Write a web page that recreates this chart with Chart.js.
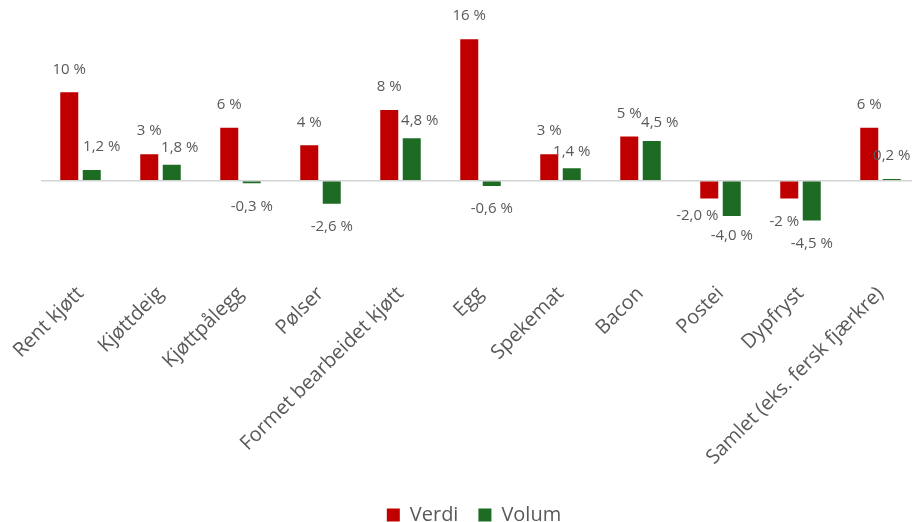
<!DOCTYPE html>
<html lang="no">
<head>
<meta charset="utf-8">
<title>Verdi og volum</title>
<script src="https://cdn.jsdelivr.net/npm/chart.js@4.4.1/dist/chart.umd.min.js"></script>
<style>
  html, body { margin: 0; padding: 0; background: #fff; overflow: hidden; }
  #wrap { width: 912px; height: 522px; overflow: hidden; }
</style>
</head>
<body>
<div id="wrap"><canvas id="salesChart" width="948" height="535"></canvas></div>
<script>
// Kategorier og endring i prosent
const categories = [
    'Rent kjøtt', 'Kjøttdeig', 'Kjøttpålegg', 'Pølser', 'Formet bearbeidet kjøtt',
    'Egg', 'Spekemat', 'Bacon', 'Postei', 'Dypfryst', 'Samlet (eks. fersk fjærkre)'
];
const verdi = [10, 3, 6, 4, 8, 16, 3, 5, -2.0, -2, 6];
const volum = [1.2, 1.8, -0.3, -2.6, 4.8, -0.6, 1.4, 4.5, -4.0, -4.5, 0.2];

// Antall desimaler i hver etikett
const verdiDecimals = [0, 0, 0, 0, 0, 0, 0, 0, 1, 0, 0];
const volumDecimals = [1, 1, 1, 1, 1, 1, 1, 1, 1, 1, 1];

const TEXT_COLOR = '#595959';
const FONT = "'Open Sans', 'Noto Sans', sans-serif";

function formatPct(value, decimals) {
    return value.toFixed(decimals).replace('.', ',') + ' %';
}

/**
 * Draw value labels outside the end of each bar
 */
const barLabels = {
    id: 'barLabels',
    afterDatasetsDraw(chart, args, opts) {
        const ctx = chart.ctx;
        ctx.save();
        ctx.font = '15px ' + FONT;
        ctx.fillStyle = TEXT_COLOR;
        ctx.textAlign = 'center';
        ctx.textBaseline = 'middle';
        chart.data.datasets.forEach((ds, di) => {
            const meta = chart.getDatasetMeta(di);
            const nudges = opts.nudge[di] || {};
            meta.data.forEach((bar, i) => {
                const value = ds.data[i];
                const [dx, dy] = nudges[i] || [0, 0];
                const y = value >= 0 ? bar.y - opts.offset : bar.y + opts.offset;
                ctx.fillText(formatPct(value, ds.decimals[i]), bar.x + dx, y + dy);
            });
        });
        ctx.restore();
    }
};

new Chart(document.getElementById('salesChart'), {
    type: 'bar',
    data: {
        labels: categories,
        datasets: [{
            label: 'Verdi',
            data: verdi,
            decimals: verdiDecimals,
            backgroundColor: '#c00000',
            categoryPercentage: 0.5625,
            barPercentage: 0.8
        }, {
            label: 'Volum',
            data: volum,
            decimals: volumDecimals,
            backgroundColor: '#1e6b24',
            categoryPercentage: 0.5625,
            barPercentage: 0.8
        }]
    },
    plugins: [barLabels],
    options: {
        responsive: false,
        animation: false,
        layout: {
            padding: { top: 21.5, left: 0, right: 0, bottom: 0 }
        },
        plugins: {
            tooltip: { enabled: false },
            legend: {
                position: 'bottom',
                labels: {
                    boxWidth: 13,
                    boxHeight: 13,
                    padding: 20,
                    color: TEXT_COLOR,
                    font: { family: FONT, size: 20 }
                }
            },
            barLabels: {
                offset: 23,
                nudge: {
                    0: { 8: [-12, -6], 9: [-5, 0] },
                    1: { 0: [10, 0], 1: [8, 6], 4: [8, 5], 6: [0, 6], 7: [8, 5], 8: [0, -3] }
                }
            }
        },
        scales: {
            x: {
                grid: { display: false },
                border: { display: false },
                ticks: {
                    autoSkip: false,
                    maxRotation: 45,
                    minRotation: 45,
                    padding: -4,
                    color: TEXT_COLOR,
                    font: { family: FONT, size: 20 }
                },
                afterFit(scale) {
                    scale.height = 207;
                    scale.paddingLeft = 40.5;
                    scale.paddingRight = 27.5;
                }
            },
            y: {
                min: -11,
                max: 18,
                ticks: { display: false, stepSize: 1 },
                border: { display: false },
                grid: {
                    drawTicks: false,
                    lineWidth: 1.5,
                    color: c => c.tick && c.tick.value === 0 ? '#d4d4d4' : 'rgba(0,0,0,0)'
                },
                afterFit(scale) {
                    scale.width = 0;
                }
            }
        }
    }
});
</script>
</body>
</html>
